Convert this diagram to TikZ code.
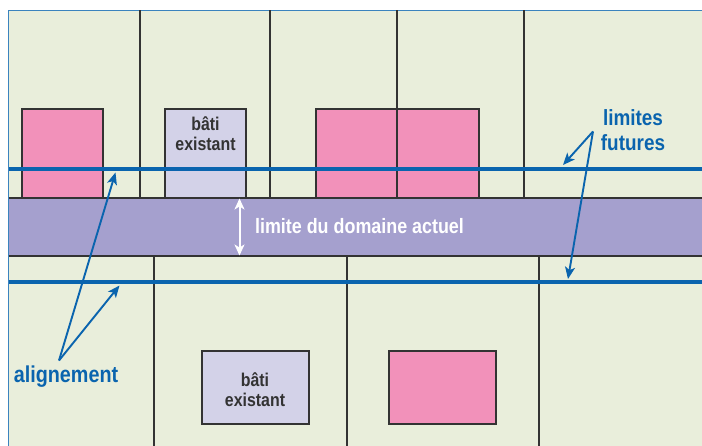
\documentclass[tikz,border=0pt]{standalone}
\usepackage{fontspec}
\usepackage{tikz}
\usetikzlibrary{arrows.meta}
\setmainfont[FakeStretch=0.86]{Liberation Sans}

\definecolor{parcel}{HTML}{E9EEDB}
\definecolor{pinkbox}{HTML}{F291BA}
\definecolor{batibox}{HTML}{D3D2E8}
\definecolor{road}{HTML}{A5A0CE}
\definecolor{limblue}{HTML}{0A64AE}
\definecolor{wall}{HTML}{333333}

\tikzset{
  building/.style={draw=wall, line width=1.9pt, inner sep=0pt, align=center},
  callout/.style={limblue, line width=1.9pt, -{Stealth[length=12pt,width=10pt,inset=3pt]}},
  bluetext/.style={text=limblue, align=center, inner sep=0pt, font=\fontsize{22}{25}\selectfont\bfseries},
  limit/.style={limblue, line width=4.7pt}
}

\begin{document}
\begin{tikzpicture}[x=1pt,y=-1pt]
  \useasboundingbox (0,0) rectangle (702,446);

  % ground and road
  \fill[parcel] (8.5,10.5) rectangle (702,446);
  \fill[road] (8.5,198) rectangle (702,256);
  \draw[limblue!80, line width=1.1pt] (702,10.5) -- (8.5,10.5) -- (8.5,446);

  % parcel limits
  \draw[wall, line width=1.6pt] (8.5,198) -- (702,198);
  \draw[wall, line width=1.6pt] (8.5,256) -- (702,256);
  \foreach \x in {140,270,397,524}
    \draw[wall, line width=1.6pt] (\x,10.5) -- (\x,198);
  \foreach \x in {154,347,539}
    \draw[wall, line width=1.6pt] (\x,256) -- (\x,446);

  \begin{scope}[every node/.style={building, anchor=north west}]
    \node[fill=pinkbox, minimum width=81pt, minimum height=89pt] (p1) at (21.2,108.2) {};
    \node[fill=batibox, minimum width=81pt, minimum height=89pt] (b1) at (164.2,108.2) {};
    \node[fill=pinkbox, minimum width=81pt, minimum height=89pt] (p2) at (315.2,108.2) {};
    \node[fill=pinkbox, minimum width=82pt, minimum height=89pt] (p3) at (396.2,108.2) {};
    \node[fill=batibox, minimum width=107pt, minimum height=73pt] (b2) at (200.7,350.2) {};
    \node[fill=pinkbox, minimum width=107pt, minimum height=73pt] (p4) at (388.2,350.2) {};
  \end{scope}

  \begin{scope}[every node/.style={text=wall, align=center, inner sep=0pt, font=\fontsize{18.5}{20}\selectfont\bfseries}]
    \node (t1) at (205.5,134) {bâti\\existant};
    \node (t2) at (255,390) {bâti\\existant};
  \end{scope}

  % future limits
  \coordinate (l1a) at (8.5,169);
  \coordinate (l1b) at (702,169);
  \coordinate (l2a) at (8.5,282);
  \coordinate (l2b) at (702,282);
  \draw[limit] (l1a) -- (l1b);
  \draw[limit] (l2a) -- (l2b);

  % road width
  \coordinate (w1) at (239.5,198.5);
  \coordinate (w2) at (239.5,255.5);
  \draw[white, line width=2pt, {Stealth[length=11pt,width=10pt,inset=3pt]}-{Stealth[length=11pt,width=10pt,inset=3pt]}] (w1) -- (w2);
  \node[text=white, inner sep=0pt, font=\fontsize{20.8}{25}\selectfont\bfseries] (lim) at (359.5,226) {limite du domaine actuel};

  % labels and callouts
  \node[bluetext] (fut) at (633,130.5) {limites\\futures};
  \node[bluetext, font=\fontsize{23}{25}\selectfont\bfseries] (ali) at (66,377) {alignement};
  \coordinate (a0) at (59,360.5);
  \coordinate (a1) at (115.5,172.5);
  \coordinate (a2) at (119.5,285.5);
  \coordinate (f0) at (593,131.5);
  \coordinate (f1) at (563,165);
  \coordinate (f2) at (568,279);
  \draw[callout] (a0) -- (a1);
  \draw[callout] (a0) -- (a2);
  \draw[callout] (f0) -- (f1);
  \draw[callout] (f0) -- (f2);
\end{tikzpicture}
\end{document}
